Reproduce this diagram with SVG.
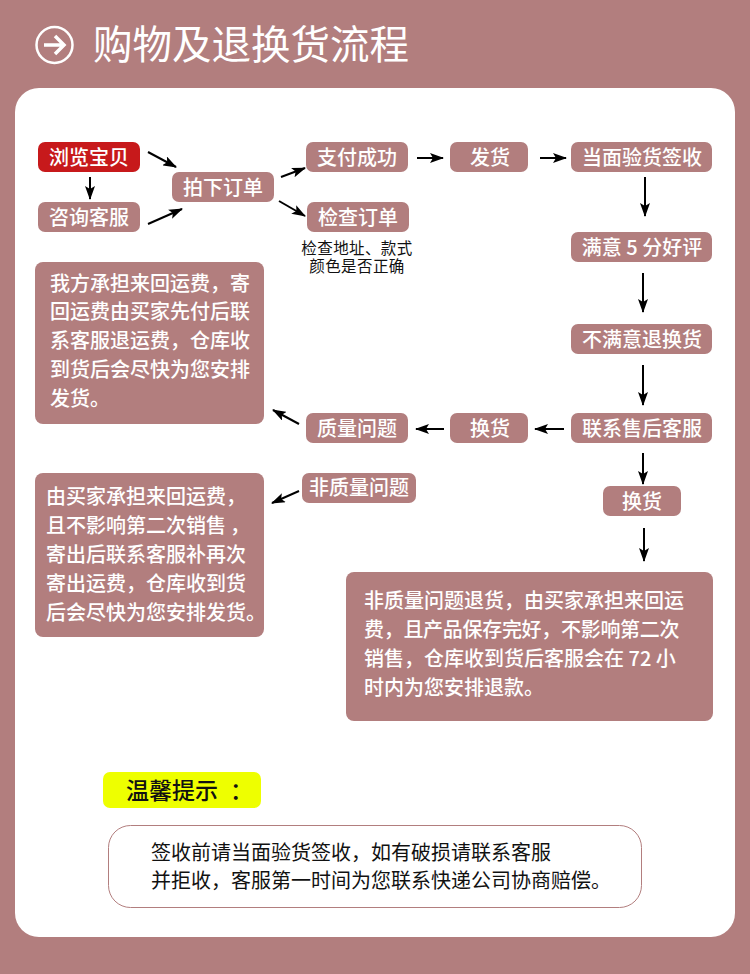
<svg xmlns="http://www.w3.org/2000/svg" width="750" height="974" viewBox="0 0 750 974">
<defs>
<marker id="ah" markerUnits="userSpaceOnUse" markerWidth="14" markerHeight="10" refX="13" refY="5" orient="auto"><path d="M0 0L14 5L0 10L3 5Z" fill="#000"/></marker>
</defs>
<style>
text{font-family:"Noto Sans CJK SC","Noto Sans",sans-serif}
.n{fill:#b27e7e}
.t{fill:#fff;font-size:20px;font-weight:500;text-anchor:middle}
.p{fill:#fff;font-size:20px;font-weight:500}
.c{stroke:#000;stroke-width:2;fill:none;marker-end:url(#ah)}
.d{fill:#111;font-size:15.500px;text-anchor:middle;letter-spacing:.4px}
.q{fill:#111;font-size:20px}
</style>
<rect width="750" height="974" fill="#b27e7e"/>
<g id="header">
<circle cx="54.500" cy="45" r="18" fill="none" stroke="#fff" stroke-width="2.500"/>
<path d="M44 45H63M55 36L64 45L55 54" fill="none" stroke="#fff" stroke-width="3.500"/>
<text x="93" y="59" font-size="39.500" fill="#fff">购物及退换货流程</text>
</g>
<rect id="panel" x="15" y="88" width="720" height="849" rx="24" fill="#fff"/>
<g id="connectors">
<path class="c" d="M148 152L176 167"/>
<path class="c" d="M90 177V199"/>
<path class="c" d="M148 224L182 209"/>
<path class="c" d="M281 177L305 168"/>
<path class="c" d="M279 201L305 216"/>
<path class="c" d="M417 158H443"/>
<path class="c" d="M540 158H566"/>
<path class="c" d="M645 177V216"/>
<path class="c" d="M643 273V312"/>
<path class="c" d="M643 365V405"/>
<path class="c" d="M643 453V484"/>
<path class="c" d="M644 528V561"/>
<path class="c" d="M564 429H535"/>
<path class="c" d="M444 429H416"/>
<path class="c" d="M299 424L273 410"/>
<path class="c" d="M299 491L272 503"/>
</g>
<g id="n1"><rect x="38" y="142" width="102" height="30" rx="7" fill="#c7191b"/><text class="t" x="89" y="165">浏览宝贝</text></g>
<g id="n2"><rect class="n" x="38" y="202" width="102" height="30" rx="7"/><text class="t" x="89" y="225">咨询客服</text></g>
<g id="n3"><rect class="n" x="172" y="172" width="102" height="30" rx="7"/><text class="t" x="223" y="195">拍下订单</text></g>
<g id="n4"><rect class="n" x="306" y="142" width="102" height="30" rx="7"/><text class="t" x="357" y="165">支付成功</text></g>
<g id="n5"><rect class="n" x="307" y="202" width="102" height="30" rx="7"/><text class="t" x="358" y="225">检查订单</text></g>
<g id="n5note"><text class="d"><tspan x="357" y="254">检查地址、款式</tspan><tspan x="357" y="272">颜色是否正确</tspan></text></g>
<g id="n6"><rect class="n" x="450" y="142" width="78" height="30" rx="7"/><text class="t" x="490" y="165">发货</text></g>
<g id="n7"><rect class="n" x="571" y="142" width="141" height="30" rx="7"/><text class="t" x="642" y="165">当面验货签收</text></g>
<g id="n8"><rect class="n" x="571" y="232" width="141" height="30" rx="7"/><text class="t" x="642" y="255">满意 5 分好评</text></g>
<g id="n9"><rect class="n" x="571" y="324" width="141" height="30" rx="7"/><text class="t" x="642" y="347">不满意退换货</text></g>
<g id="n10"><rect class="n" x="571" y="413" width="141" height="30" rx="7"/><text class="t" x="642" y="436">联系售后客服</text></g>
<g id="n11"><rect class="n" x="450" y="413" width="78" height="30" rx="7"/><text class="t" x="490" y="436">换货</text></g>
<g id="n12"><rect class="n" x="306" y="413" width="102" height="30" rx="7"/><text class="t" x="357" y="436">质量问题</text></g>
<g id="n13"><rect class="n" x="302" y="473" width="114" height="30" rx="7"/><text class="t" x="359" y="495">非质量问题</text></g>
<g id="n14"><rect class="n" x="603" y="486" width="78" height="30" rx="7"/><text class="t" x="642" y="509">换货</text></g>
<g id="boxA"><rect class="n" x="35" y="262" width="229" height="162" rx="8"/>
<text class="p" x="50" y="291">我方承担来回运费，寄</text>
<text class="p" x="50" y="319">回运费由买家先付后联</text>
<text class="p" x="50" y="348">系客服退运费，仓库收</text>
<text class="p" x="50" y="377">到货后会尽快为您安排</text>
<text class="p" x="50" y="406">发货。</text></g>
<g id="boxB"><rect class="n" x="35" y="473" width="229" height="164" rx="8"/>
<text class="p" x="46" y="504">由买家承担来回运费，</text>
<text class="p" x="46" y="533">且不影响第二次销售<tspan dx="4">，</tspan></text>
<text class="p" x="46" y="562">寄出后联系客服补再次</text>
<text class="p" x="46" y="591">寄出运费，仓库收到货</text>
<text class="p" x="46" y="620">后会尽快为您安排发货。</text></g>
<g id="boxC"><rect class="n" x="346" y="572" width="367" height="149" rx="8"/>
<text class="p" x="364" y="608">非质量问题退货，由买家承担来回运</text>
<text class="p" x="364" y="637" letter-spacing="-.3">费，且产品保存完好，不影响第二次</text>
<text class="p" x="364" y="666">销售，仓库收到货后客服会在 72 小</text>
<text class="p" x="364" y="695">时内为您安排退款。</text></g>
<g id="tip"><rect x="103" y="772" width="158" height="36" rx="7" fill="#eeff00"/><text x="126" y="799" font-size="23" font-weight="500" fill="#111">温馨提示<tspan dx="12">：</tspan></text></g>
<g id="notice"><rect x="108.500" y="825.500" width="533" height="82" rx="22" fill="#fff" stroke="#b27e7e"/>
<text class="q" x="151" y="860">签收前请当面验货签收，如有破损请联系客服</text>
<text class="q" x="151" y="888">并拒收，客服第一时间为您联系快递公司协商赔偿。</text></g>
</svg>
